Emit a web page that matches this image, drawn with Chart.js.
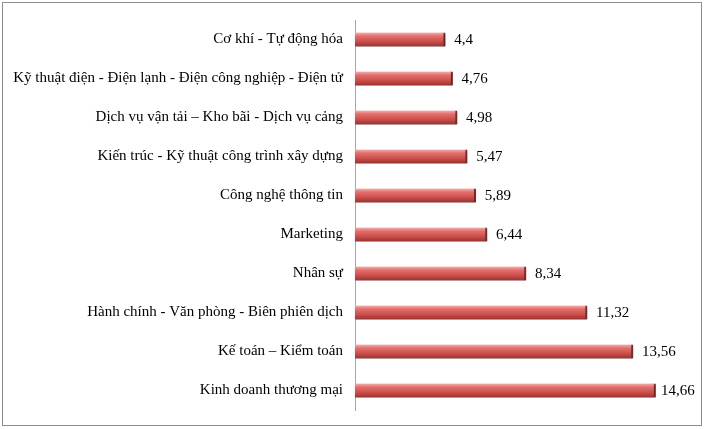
<!DOCTYPE html>
<html>
<head>
<meta charset="utf-8">
<script src="https://cdn.jsdelivr.net/npm/chart.js@4.4.1/dist/chart.umd.min.js"></script>
<style>
  html, body { margin: 0; padding: 0; background: #fff; }
  .chart-box {
    position: absolute; left: 2px; top: 2px;
    width: 698px; height: 422px;
    border: 1px solid #8c8c8c;
  }
</style>
</head>
<body>
<div class="chart-box"><canvas id="barChart"></canvas></div>
<script>
// nhóm ngành (từ trên xuống)
const categories = [
  'Cơ khí - Tự động hóa',
  'Kỹ thuật điện - Điện lạnh - Điện công nghiệp - Điện tử',
  'Dịch vụ vận tải – Kho bãi - Dịch vụ cảng',
  'Kiến trúc - Kỹ thuật công trình xây dựng',
  'Công nghệ thông tin',
  'Marketing',
  'Nhân sự',
  'Hành chính - Văn phòng - Biên phiên dịch',
  'Kế toán – Kiểm toán',
  'Kinh doanh thương mại',
];
const values = [4.4, 4.76, 4.98, 5.47, 5.89, 6.44, 8.34, 11.32, 13.56, 14.66];
const valueLabels = ['4,4', '4,76', '4,98', '5,47', '5,89', '6,44', '8,34', '11,32', '13,56', '14,66'];

const serif = "'Liberation Serif', 'Times New Roman', serif";

// màu thanh kiểu 3D (sáng phía trên, tối phía dưới)
function barFill(context) {
  const chart = context.chart;
  const yScale = chart.scales.y;
  if (!yScale || context.dataIndex === undefined) return '#c0504d';
  const y = yScale.getPixelForValue(context.dataIndex);
  if (!Number.isFinite(y)) return '#c0504d';
  const g = chart.ctx.createLinearGradient(0, y - 7, 0, y + 7);
  g.addColorStop(0, '#f2afad');
  g.addColorStop(0.25, '#e2706d');
  g.addColorStop(0.6, '#d0514e');
  g.addColorStop(1, '#98322f');
  return g;
}

// nhãn giá trị bên phải thanh
const valueLabelPlugin = {
  id: 'valueLabels',
  afterDatasetsDraw(chart) {
    const ctx = chart.ctx;
    const meta = chart.getDatasetMeta(0);
    ctx.save();
    ctx.font = '15px ' + serif;
    ctx.fillStyle = '#000';
    ctx.textBaseline = 'middle';
    ctx.textAlign = 'left';
    meta.data.forEach(function (bar, i) {
      const x = Math.min(bar.x + 9, chart.width - 40);
      ctx.fillText(valueLabels[i], x, bar.y + 1);
    });
    ctx.restore();
  },
};

// bóng mờ dưới thanh
const shadowPlugin = {
  id: 'barShadow',
  beforeDatasetsDraw(chart) {
    chart.ctx.save();
    chart.ctx.shadowColor = 'rgba(0,0,0,0.35)';
    chart.ctx.shadowOffsetY = 2;
    chart.ctx.shadowOffsetX = 1;
    chart.ctx.shadowBlur = 2;
  },
  afterDatasetsDraw(chart) {
    chart.ctx.restore();
  },
};

new Chart(document.getElementById('barChart'), {
  type: 'bar',
  data: {
    labels: categories,
    datasets: [
      {
        data: values,
        backgroundColor: barFill,
        borderColor: '#8e2b28',
        borderWidth: { top: 0, bottom: 0, left: 0, right: 2 },
        barThickness: 14,
      },
    ],
  },
  options: {
    indexAxis: 'y',
    responsive: true,
    maintainAspectRatio: false,
    animation: false,
    events: [],
    layout: {
      padding: { top: 17, right: 18, bottom: 15, left: 0 },
    },
    plugins: {
      legend: { display: false },
      tooltip: { enabled: false },
    },
    scales: {
      x: {
        display: false,
        min: 0,
        max: 16,
      },
      y: {
        grid: { display: false },
        border: { display: true, color: '#a6a6a6', width: 1 },
        ticks: {
          color: '#000',
          padding: 4,
          font: { family: serif, size: 15 },
        },
        afterFit: function (scale) {
          scale.width = 352;
        },
      },
    },
  },
  plugins: [shadowPlugin, valueLabelPlugin],
});
</script>
</body>
</html>
